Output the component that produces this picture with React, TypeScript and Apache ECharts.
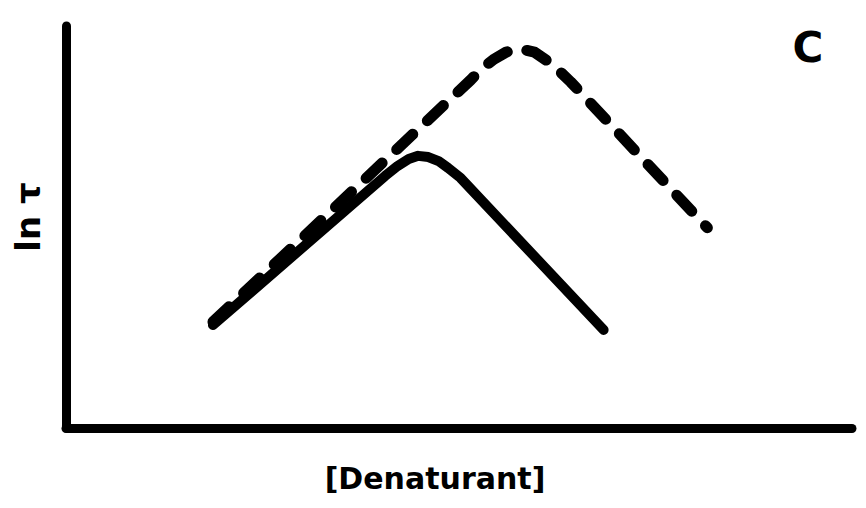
import React, { useEffect, useRef } from "react";
import * as echarts from "echarts";

// Solid curve in data units (x: 0..100, y: 0..100)
const solidX = [18.7, 40.6, 42.2, 43.6, 44.8, 46.1, 47.4, 48.6, 50.2, 68.4];
const solidY = [25.6, 62.7, 65.2, 66.9, 67.7, 67.4, 66.4, 64.7, 62.2, 24.4];
// Dashed curve
const dashedX = [18.7, 51.5, 53.0, 54.5, 56.0, 57.8, 59.6, 61.1, 62.6, 64.2, 81.6];
const dashedY = [26.4, 86.6, 89.6, 91.8, 93.5, 94.3, 93.5, 91.5, 89.1, 86.1, 49.8];

const xName = "[Denaturant]";
const yName = "ln τ";
const panelLabel = "C";

const pairs = (xs: number[], ys: number[]) => xs.map((x, i) => [x, ys[i]]);

export default function App() {
  const ref = useRef<HTMLDivElement>(null);
  useEffect(() => {
    if (!ref.current) return;
    const chart = echarts.init(ref.current, null, { renderer: "svg" });
    const font = "DejaVu Sans";
    chart.setOption({
      animation: false,
      backgroundColor: "#ffffff",
      graphic: [
        {
          type: "text",
          x: 808,
          y: 47,
          style: {
            text: panelLabel,
            fontFamily: font,
            fontWeight: "bold",
            fontSize: 42,
            fill: "#000",
            align: "center",
            verticalAlign: "middle",
          },
        },
        {
          type: "text",
          x: 435,
          y: 478,
          style: {
            text: xName,
            fontFamily: font,
            fontWeight: "bold",
            fontSize: 30,
            fill: "#000",
            align: "center",
            verticalAlign: "middle",
          },
        },
        {
          type: "text",
          x: 28,
          y: 217,
          rotation: Math.PI / 2,
          style: {
            text: yName,
            fontFamily: font,
            fontWeight: "bold",
            fontSize: 34,
            fill: "#000",
            align: "center",
            verticalAlign: "middle",
          },
        },
      ],
      grid: { left: 66, right: 14, top: 26, bottom: 80 },
      xAxis: {
        type: "value",
        min: 0,
        max: 100,
        axisLine: { show: true, lineStyle: { color: "#000", width: 9, cap: "round" } },
        axisTick: { show: false },
        axisLabel: { show: false },
        splitLine: { show: false },
      },
      yAxis: {
        type: "value",
        min: 0,
        max: 100,
        axisLine: { show: true, lineStyle: { color: "#000", width: 9, cap: "round" } },
        axisTick: { show: false },
        axisLabel: { show: false },
        splitLine: { show: false },
      },
      series: [
        {
          type: "line",
          data: pairs(solidX, solidY),
          smooth: false,
          symbol: "none",
          lineStyle: { color: "#000", width: 10, cap: "round", join: "round" },
        },
        {
          type: "line",
          data: pairs(dashedX, dashedY),
          smooth: false,
          symbol: "none",
          lineStyle: { color: "#000", width: 11, type: [22, 20], cap: "round", join: "round" },
        },
      ],
    });
    return () => chart.dispose();
  }, []);
  return (
    <div
      ref={ref}
      style={{ position: "fixed", left: 0, top: 0, width: 866, height: 508 }}
    />
  );
}
